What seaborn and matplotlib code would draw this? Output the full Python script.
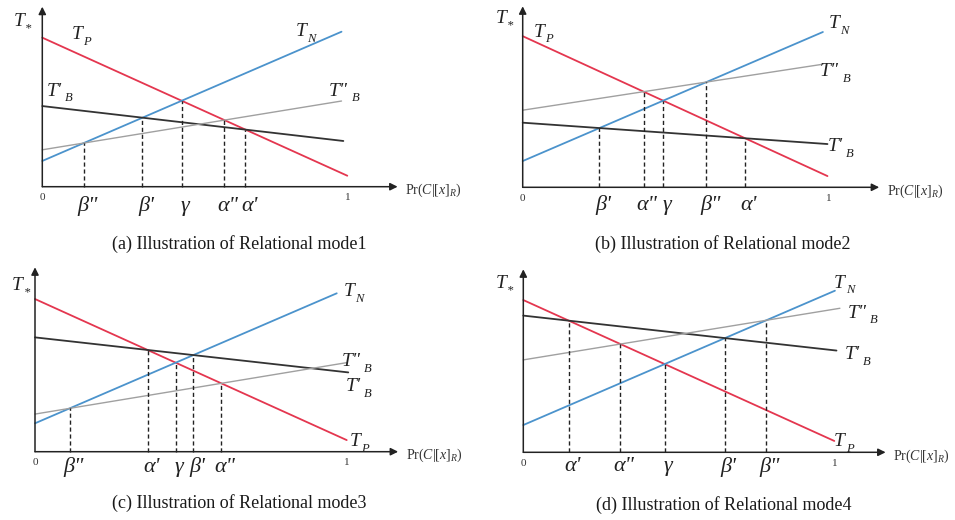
"""
Four relational-mode threshold diagrams (T_P, T_N, T'_B, T"_B against Pr(C|[x]_R)).
"""

import numpy as np
import matplotlib
matplotlib.use('Agg')
import matplotlib.pyplot as plt
import seaborn as sns

sns.set_theme(style='white')
plt.rcParams.update({
    'font.family': ['Liberation Serif', 'DejaVu Serif'],
    'mathtext.fontset': 'custom',
    'mathtext.it': 'Liberation Serif:italic',
    'mathtext.rm': 'Liberation Serif',
    'mathtext.bf': 'Liberation Serif:bold',
})

RED = '#e4364f'
BLUE = '#4b93cc'
DARK = '#333333'
GREY = '#a0a0a0'
INK = '#222222'

# line order: T_P, T_N, T'_B, T"_B  (value at x=0, end x, value at end x)
LINE_KEYS = ['TP', 'TN', 'TB1', 'TB2']

A_START = [0.828, 0.143, 0.448, 0.205]
A_END_X = [1.0, 0.981, 0.987, 0.981]
A_END_Y = [0.061, 0.861, 0.254, 0.476]
A_THRESH = ['β"', "β'", 'γ', 'α"', "α'"]
A_PAIRS = [('TN', 'TB2'), ('TN', 'TB1'), ('TP', 'TN'), ('TP', 'TB2'), ('TP', 'TB1')]

B_START = [0.835, 0.145, 0.357, 0.426]
B_END_X = [0.996, 0.981, 0.996, 0.981]
B_END_Y = [0.062, 0.858, 0.239, 0.680]
B_THRESH = ["β'", 'α"', 'γ', 'β"', "α'"]
B_PAIRS = [('TN', 'TB1'), ('TP', 'TB2'), ('TP', 'TN'), ('TN', 'TB2'), ('TP', 'TB1')]

C_START = [0.828, 0.154, 0.620, 0.204]
C_END_X = [1.0, 0.968, 1.005, 1.0]
C_END_Y = [0.063, 0.859, 0.430, 0.483]
C_THRESH = ['β"', "α'", 'γ', "β'", 'α"']
C_PAIRS = [('TN', 'TB2'), ('TP', 'TB1'), ('TP', 'TN'), ('TN', 'TB1'), ('TP', 'TB2')]

D_START = [0.832, 0.149, 0.747, 0.505]
D_END_X = [1.0, 1.002, 1.007, 1.018]
D_END_Y = [0.062, 0.883, 0.556, 0.787]
D_THRESH = ["α'", 'α"', 'γ', "β'", 'β"']
D_PAIRS = [('TP', 'TB1'), ('TP', 'TB2'), ('TP', 'TN'), ('TN', 'TB1'), ('TN', 'TB2')]

CAPTIONS = ['(a) Illustration of Relational mode1', '(b) Illustration of Relational mode2',
            '(c) Illustration of Relational mode3', '(d) Illustration of Relational mode4']

# main text and subscript for each line label
LINE_LABELS = {'TP': ('T', 'P'), 'TN': ('T', 'N'), 'TB1': ("T'", 'B'), 'TB2': ('T"', 'B')}
LINE_COLORS = {'TP': RED, 'TN': BLUE, 'TB1': DARK, 'TB2': GREY}
LINE_WIDTHS = {'TP': 1.3, 'TN': 1.3, 'TB1': 1.3, 'TB2': 1.0}

# layout: origin pixel, unit pixels, label positions (data units), greek label height, caption pixel
PANELS = [
    dict(start=A_START, end_x=A_END_X, end_y=A_END_Y, thresh=A_THRESH, pairs=A_PAIRS,
         origin=(42.3, 186.7), unit=(305, 180), greek_y=-0.11, caption=(239, 244),
         lab={'TP': (0.127, 0.843), 'TN': (0.861, 0.861), 'TB1': (0.058, 0.53), 'TB2': (0.998, 0.53)},
         star=(-0.064, 0.917)),
    dict(start=B_START, end_x=B_END_X, end_y=B_END_Y, thresh=B_THRESH, pairs=B_PAIRS,
         origin=(522.7, 187.3), unit=(306, 181), greek_y=-0.10, caption=(723, 244),
         lab={'TP': (0.067, 0.858), 'TN': (1.03, 0.904), 'TB1': (1.04, 0.224), 'TB2': (1.03, 0.638)},
         star=(-0.058, 0.932)),
    dict(start=C_START, end_x=C_END_X, end_y=C_END_Y, thresh=C_THRESH, pairs=C_PAIRS,
         origin=(35.0, 451.7), unit=(311.7, 184.4), greek_y=-0.085, caption=(239, 503),
         lab={'TP': (1.04, 0.054), 'TN': (1.02, 0.868), 'TB1': (1.04, 0.353), 'TB2': (1.04, 0.488)},
         star=(-0.043, 0.904)),
    dict(start=D_START, end_x=D_END_X, end_y=D_END_Y, thresh=D_THRESH, pairs=D_PAIRS,
         origin=(523.3, 452.3), unit=(311, 183), greek_y=-0.08, caption=(724, 505),
         lab={'TP': (1.03, 0.058), 'TN': (1.03, 0.924), 'TB1': (1.077, 0.532), 'TB2': (1.1, 0.76)},
         star=(-0.059, 0.924)),
]

W, H = 955, 520
XMIN, XMAX, YMIN, YMAX = -0.12, 1.45, -0.2, 1.04


def intersect(lines, k1, k2):
    y0a, sa = lines[k1]
    y0b, sb = lines[k2]
    x = (y0b - y0a) / (sa - sb)
    return x, y0a + sa * x


def sub_label(ax, x, y, main, sub, size=14):
    # italic main letter(s) with a small italic subscript to its right
    gap = 3.5 if len(main) > 1 else 1.5
    ax.annotate(main, xy=(x, y), xytext=(1, 0), textcoords='offset points',
                ha='right', va='center', fontsize=size, style='italic', color=INK)
    ax.annotate(sub, xy=(x, y), xytext=(gap, -5), textcoords='offset points',
                ha='left', va='center', fontsize=size * 0.65, style='italic', color=INK)


fig = plt.figure(figsize=(W / 100, H / 100), dpi=100)
fig.patch.set_facecolor('white')

for i, p in enumerate(PANELS):
    ox, oy = p['origin']
    ux, uy = p['unit']
    left = (ox + XMIN * ux) / W
    right = (ox + XMAX * ux) / W
    top = 1 - (oy - YMAX * uy) / H
    bottom = 1 - (oy - YMIN * uy) / H
    ax = fig.add_axes([left, bottom, right - left, top - bottom])
    ax.set_xlim(XMIN, XMAX)
    ax.set_ylim(YMIN, YMAX)
    ax.axis('off')

    # axes with arrow heads
    ax.annotate('', xy=(1.165, 0), xytext=(0, 0),
                arrowprops=dict(arrowstyle='-|>', color=INK, lw=1.1, mutation_scale=11,
                                shrinkA=0, shrinkB=0))
    ax.annotate('', xy=(0, 1.0), xytext=(0, 0),
                arrowprops=dict(arrowstyle='-|>', color=INK, lw=1.1, mutation_scale=11,
                                shrinkA=0, shrinkB=0))

    lines = {}
    for k, y0, xe, ye in zip(LINE_KEYS, p['start'], p['end_x'], p['end_y']):
        lines[k] = (y0, (ye - y0) / xe)
        sns.lineplot(x=[0, xe], y=[y0, ye], ax=ax, color=LINE_COLORS[k],
                     lw=LINE_WIDTHS[k], estimator=None, legend=False)

    for name, (k1, k2) in zip(p['thresh'], p['pairs']):
        xi, yi = intersect(lines, k1, k2)
        ax.plot([xi, xi], [0, yi], color=INK, lw=1.0, ls=(0, (3, 2)))
        ax.text(xi + 0.012, p['greek_y'], name, ha='center', va='center', fontsize=16,
                style='italic', family='Liberation Serif', color=INK)

    for k, (lx, ly) in p['lab'].items():
        main, sub = LINE_LABELS[k]
        sub_label(ax, lx, ly, main, sub)
    sub_label(ax, p['star'][0], p['star'][1], 'T', '*')

    ax.text(0.0, -0.06, '0', ha='center', va='center', fontsize=8, color='#333333')
    ax.text(1.0, -0.06, '1', ha='center', va='center', fontsize=8, color='#333333')
    ax.text(1.19, -0.02, r'Pr$(C|[x]_R)$', ha='left', va='center', fontsize=10,
            color='#333333')

    cx, cy = p['caption']
    fig.text(cx / W, 1 - cy / H, CAPTIONS[i], ha='center', va='center',
             fontsize=13, family='Liberation Serif', color='#1a1a1a')

fig.savefig('out.png', dpi=100, facecolor='white')
